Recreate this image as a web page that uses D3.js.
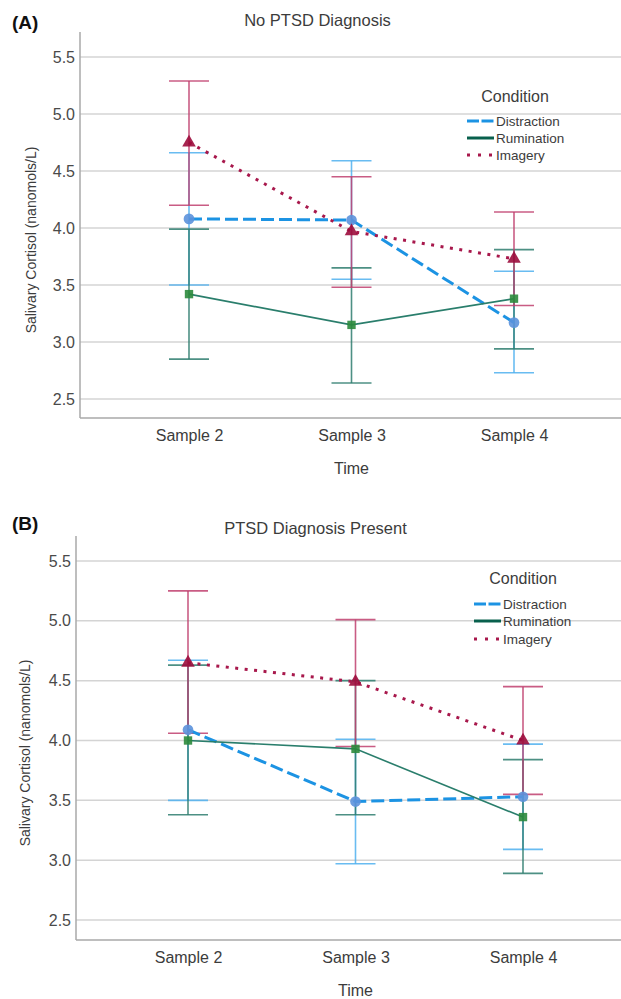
<!DOCTYPE html>
<html>
<head>
<meta charset="utf-8">
<script src="https://cdn.jsdelivr.net/npm/d3@7"></script>
<style>
  html, body { margin: 0; padding: 0; background: #fff; }
  svg { display: block; font-family: Arial, "Liberation Sans", sans-serif; }
</style>
</head>
<body>
<svg id="chart" width="621" height="999"></svg>
<script>
// ── Data ──────────────────────────────────────────────────────────────────────
const times = ["Sample 2", "Sample 3", "Sample 4"];
const conditions = ["Distraction", "Rumination", "Imagery"];
const yTicks = [2.5, 3.0, 3.5, 4.0, 4.5, 5.0, 5.5];

// panel A — rows follow `conditions`, columns follow `times`
const noPtsdMean  = [[4.08, 4.07, 3.17], [3.42, 3.15, 3.38], [4.75, 3.97, 3.73]];
const noPtsdLower = [[3.50, 3.55, 2.73], [2.85, 2.64, 2.94], [4.20, 3.48, 3.32]];
const noPtsdUpper = [[4.66, 4.59, 3.62], [3.99, 3.65, 3.81], [5.29, 4.45, 4.14]];

// panel B
const ptsdMean  = [[4.09, 3.49, 3.53], [4.00, 3.93, 3.36], [4.65, 4.49, 4.00]];
const ptsdLower = [[3.50, 2.97, 3.09], [3.38, 3.38, 2.89], [4.06, 3.95, 3.55]];
const ptsdUpper = [[4.67, 4.01, 3.97], [4.63, 4.50, 3.84], [5.25, 5.01, 4.45]];

// ── Styles ────────────────────────────────────────────────────────────────────
const STYLE = {
  Distraction: { line: "#1c93e3", bar: "#4fb0ee", mark: "#5c92dc", legend: "#1c93e3",
                 dash: "13,5", width: 3, legendDash: "12,2.5", shape: d3.symbolCircle, size: 90 },
  Rumination:  { line: "#2a7e6c", bar: "#2e7d6e", mark: "#2b8a3c", legend: "#08604d",
                 dash: null, width: 1.6, legendDash: null, shape: d3.symbolSquare, size: 70 },
  Imagery:     { line: "#a8184c", bar: "#c0406e", mark: "#9c0c3c", legend: "#a8184c",
                 dash: "3,6.5", width: 3, legendDash: "3,8", shape: d3.symbolTriangle, size: 80 },
};

const svg = d3.select("#chart");

drawPanel({
  tag: "(A)", title: "No PTSD Diagnosis",
  mean: noPtsdMean, lower: noPtsdLower, upper: noPtsdUpper,
  left: 80, right: 621, top: 32, bottom: 418,
  yAt25: 399, yAt55: 57, xFirst: 189, xLast: 514,
  tagY: 22, titleY: 20, tickLabelY: 435, timeY: 468, yLabelX: 31,
  legend: { x: 467, titleX: 515, titleY: 96, rowY: [121, 138, 155] },
});

drawPanel({
  tag: "(B)", title: "PTSD Diagnosis Present",
  mean: ptsdMean, lower: ptsdLower, upper: ptsdUpper,
  left: 76, right: 621, top: 536, bottom: 940,
  yAt25: 920, yAt55: 561, xFirst: 188, xLast: 523,
  tagY: 523, titleY: 528, tickLabelY: 957, timeY: 990, yLabelX: 25,
  legend: { x: 474, titleX: 523, titleY: 578, rowY: [604, 621, 639] },
});

// ── Panel ─────────────────────────────────────────────────────────────────────
function drawPanel(p) {
  const y = d3.scaleLinear().domain([2.5, 5.5]).range([p.yAt25, p.yAt55]);
  const x = d3.scalePoint().domain(times).range([p.xFirst, p.xLast]);
  const g = svg.append("g");

  // gridlines
  g.append("g").selectAll("line").data(yTicks).join("line")
    .attr("x1", p.left).attr("x2", p.right)
    .attr("y1", d => y(d)).attr("y2", d => y(d))
    .attr("stroke", "#d4d4d4").attr("stroke-width", 1.5);

  // axes
  const yAxis = g.append("g").attr("transform", `translate(${p.left},0)`)
    .call(d3.axisLeft(y).tickValues(yTicks).tickFormat(d3.format(".1f")).tickSize(0).tickPadding(5));
  yAxis.select(".domain").remove();
  yAxis.selectAll("text").attr("font-size", 16).attr("fill", "#4a4a4a");

  const xAxis = g.append("g").attr("transform", `translate(0,${p.tickLabelY})`)
    .call(d3.axisBottom(x).tickSize(0).tickPadding(0));
  xAxis.select(".domain").remove();
  xAxis.selectAll("text").attr("font-size", 16).attr("fill", "#3c3c3c").attr("dy", "0.35em");

  g.append("line").attr("x1", p.left).attr("x2", p.left)
    .attr("y1", p.top).attr("y2", p.bottom).attr("stroke", "#a8a8a8").attr("stroke-width", 1.5);
  g.append("line").attr("x1", p.left).attr("x2", p.right)
    .attr("y1", p.bottom).attr("y2", p.bottom).attr("stroke", "#a8a8a8").attr("stroke-width", 1.5);

  // labels
  g.append("text").attr("x", 12).attr("y", p.tagY).attr("dy", "0.35em")
    .attr("font-size", 19).attr("font-weight", "bold").attr("fill", "#111").text(p.tag);
  g.append("text").attr("x", (p.left + p.right) / 2 - 33).attr("y", p.titleY).attr("dy", "0.35em")
    .attr("text-anchor", "middle").attr("font-size", 16.5).attr("fill", "#3c3c3c").text(p.title);
  g.append("text").attr("x", x("Sample 3")).attr("y", p.timeY).attr("dy", "0.35em")
    .attr("text-anchor", "middle").attr("font-size", 16).attr("fill", "#3c3c3c").text("Time");
  g.append("text")
    .attr("transform", `translate(${p.yLabelX},${(p.top + p.bottom) / 2 + 15}) rotate(-90)`)
    .attr("text-anchor", "middle").attr("dy", "0.35em")
    .attr("font-size", 14).attr("fill", "#3c3c3c").text("Salivary Cortisol (nanomols/L)");

  const cap = 20;

  // error bars
  conditions.forEach((c, ci) => {
    const s = STYLE[c];
    const eg = g.append("g").attr("stroke", s.bar).attr("stroke-width", 1.6).attr("stroke-opacity", 0.85);
    times.forEach((t, ti) => {
      const cx = x(t);
      eg.append("line").attr("x1", cx).attr("x2", cx)
        .attr("y1", y(p.lower[ci][ti])).attr("y2", y(p.upper[ci][ti]));
      [p.lower[ci][ti], p.upper[ci][ti]].forEach(v => {
        eg.append("line").attr("x1", cx - cap).attr("x2", cx + cap)
          .attr("y1", y(v)).attr("y2", y(v));
      });
    });
  });

  // mean lines
  const line = d3.line().x((d, i) => x(times[i])).y(d => y(d));
  conditions.forEach((c, ci) => {
    const s = STYLE[c];
    g.append("path").datum(p.mean[ci]).attr("d", line)
      .attr("fill", "none").attr("stroke", s.line).attr("stroke-width", s.width)
      .attr("stroke-dasharray", s.dash);
  });

  // markers
  conditions.forEach((c, ci) => {
    const s = STYLE[c];
    g.append("g").selectAll("path").data(p.mean[ci]).join("path")
      .attr("transform", (d, i) => `translate(${x(times[i])},${y(d)})`)
      .attr("d", d3.symbol().type(s.shape).size(s.size))
      .attr("fill", s.mark).attr("fill-opacity", 0.9);
  });

  // legend
  const L = p.legend;
  g.append("text").attr("x", L.titleX).attr("y", L.titleY).attr("dy", "0.35em")
    .attr("text-anchor", "middle").attr("font-size", 16).attr("fill", "#3c3c3c").text("Condition");
  conditions.forEach((c, ci) => {
    const s = STYLE[c];
    const ry = L.rowY[ci];
    g.append("line").attr("x1", L.x).attr("x2", L.x + 27).attr("y1", ry).attr("y2", ry)
      .attr("stroke", s.legend).attr("stroke-width", 3).attr("stroke-dasharray", s.legendDash);
    g.append("text").attr("x", L.x + 29).attr("y", ry).attr("dy", "0.35em")
      .attr("font-size", 13.5).attr("fill", "#3c3c3c").text(c);
  });
}
</script>
</body>
</html>
